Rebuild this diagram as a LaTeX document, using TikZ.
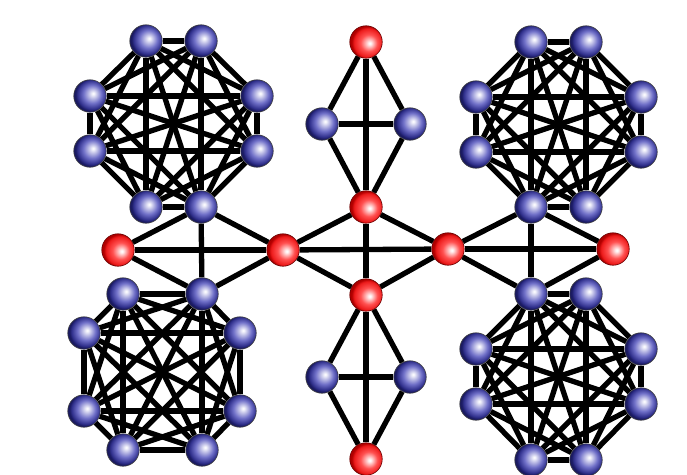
\documentclass[tikz,border=0pt]{standalone}
\usetikzlibrary{backgrounds}
\definecolor{bA}{HTML}{F0F0FA}
\definecolor{bB}{HTML}{7070C8}
\definecolor{bC}{HTML}{30308C}
\definecolor{bD}{HTML}{1A1A60}
\definecolor{rA}{HTML}{FFF2F2}
\definecolor{rB}{HTML}{FF5050}
\definecolor{rC}{HTML}{EC1A1A}
\definecolor{rD}{HTML}{B00000}
\pgfdeclareradialshading{bball}{\pgfpoint{5bp}{4bp}}{color(0bp)=(white); color(2bp)=(bA); color(14bp)=(bB); color(22bp)=(bC); color(25bp)=(bD); color(50bp)=(bD)}
\pgfdeclareradialshading{rball}{\pgfpoint{6bp}{-2bp}}{color(0bp)=(white); color(2bp)=(rA); color(13bp)=(rB); color(22bp)=(rC); color(25bp)=(rD); color(50bp)=(rD)}
\tikzset{
  bnode/.style={circle, minimum size=32.5pt, inner sep=0pt, shading=bball, draw=black!75, line width=0.6pt},
  rnode/.style={circle, minimum size=32.5pt, inner sep=0pt, shading=rball, draw=black!60!red, line width=0.6pt},
  edge/.style={line width=5.3pt, black}
}
\begin{document}
\begin{tikzpicture}[x=1pt,y=-1pt]
\useasboundingbox (0,0) rectangle (687,474);
\clip (0,0) rectangle (687,474);
% top-left octagon
\node[bnode] (TL1) at (146,41) {};
\node[bnode] (TL2) at (201,41) {};
\node[bnode] (TL3) at (257,96) {};
\node[bnode] (TL4) at (257,151) {};
\node[bnode] (TL5) at (201,207) {};
\node[bnode] (TL6) at (146,207) {};
\node[bnode] (TL7) at (90,151) {};
\node[bnode] (TL8) at (90,96) {};
% bottom-left octagon
\node[bnode] (BL1) at (123,294) {};
\node[bnode] (BL2) at (202,294) {};
\node[bnode] (BL3) at (240,333) {};
\node[bnode] (BL4) at (240,411) {};
\node[bnode] (BL5) at (202,450) {};
\node[bnode] (BL6) at (123,450) {};
\node[bnode] (BL7) at (84,411) {};
\node[bnode] (BL8) at (84,333) {};
% top-right octagon
\node[bnode] (TR1) at (531,42) {};
\node[bnode] (TR2) at (586,42) {};
\node[bnode] (TR3) at (641,97) {};
\node[bnode] (TR4) at (641,152) {};
\node[bnode] (TR5) at (586,207) {};
\node[bnode] (TR6) at (531,207) {};
\node[bnode] (TR7) at (476,152) {};
\node[bnode] (TR8) at (476,97) {};
% bottom-right octagon
\node[bnode] (BR1) at (531,294) {};
\node[bnode] (BR2) at (586,294) {};
\node[bnode] (BR3) at (641,349) {};
\node[bnode] (BR4) at (641,404) {};
\node[bnode] (BR5) at (586,460) {};
\node[bnode] (BR6) at (531,460) {};
\node[bnode] (BR7) at (476,404) {};
\node[bnode] (BR8) at (476,349) {};
% middle
\node[rnode] (rL) at (118,250) {};
\node[rnode] (rCL) at (283,250) {};
\node[rnode] (rCT) at (366,207) {};
\node[rnode] (rCB) at (366,295) {};
\node[rnode] (rCR) at (448,249) {};
\node[rnode] (rR) at (613,249) {};
\node[rnode] (rT) at (366,42) {};
\node[rnode] (rB) at (366,459) {};
\node[bnode] (mT1) at (322,124) {};
\node[bnode] (mT2) at (410,124) {};
\node[bnode] (mB1) at (322,377) {};
\node[bnode] (mB2) at (410,377) {};
\begin{scope}[on background layer]
  \foreach \g in {TL,BL,TR,BR}{
    \foreach \i in {1,...,7}{
      \pgfmathtruncatemacro\k{\i+1}
      \foreach \j in {\k,...,8}{
        \draw[edge] (\g\i) -- (\g\j);
      }
    }
  }
  \foreach \a/\b/\c/\d in {rL/rCL/TL5/BL2, rCL/rCR/rCT/rCB, rCR/rR/TR6/BR1, rT/rCT/mT1/mT2, rCB/rB/mB1/mB2}{
    \draw[edge] (\a) -- (\b);
    \draw[edge] (\c) -- (\d);
    \draw[edge] (\a) -- (\c);
    \draw[edge] (\a) -- (\d);
    \draw[edge] (\b) -- (\c);
    \draw[edge] (\b) -- (\d);
  }
\end{scope}
\end{tikzpicture}
\end{document}
